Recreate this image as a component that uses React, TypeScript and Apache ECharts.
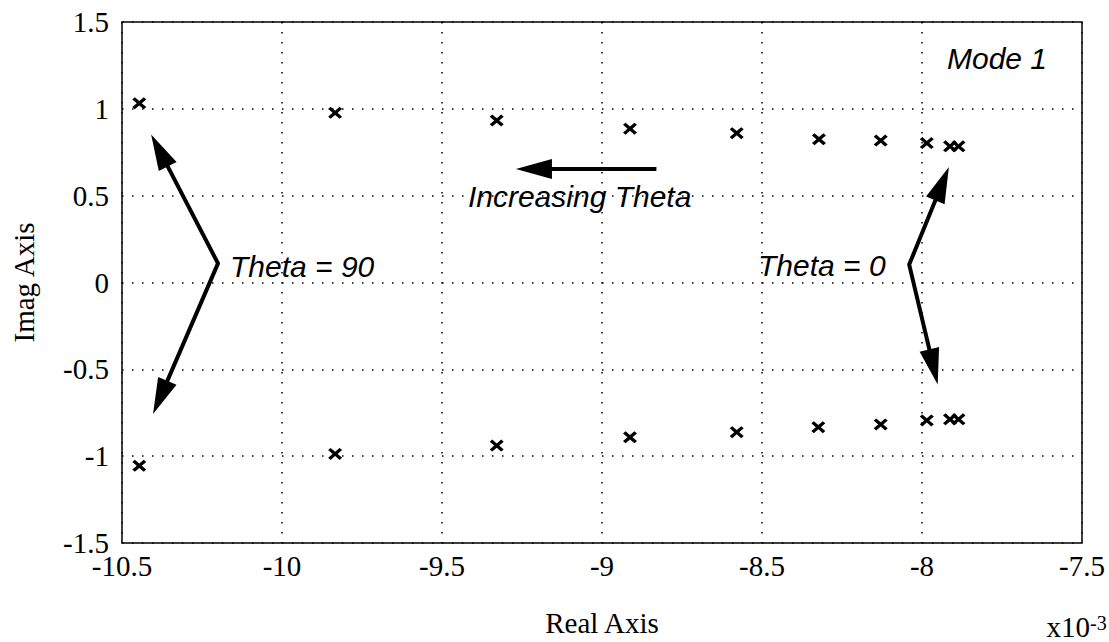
import React, { useEffect, useRef } from "react";
import * as echarts from "echarts";

// Root locus points (real part in units of 1e-3)
const realUpper = [-10.446, -9.834, -9.329, -8.9125, -8.579, -8.322, -8.129, -7.985, -7.9125, -7.886];
const imagUpper = [1.032, 0.977, 0.933, 0.886, 0.86, 0.825, 0.817, 0.803, 0.784, 0.784];
const realLower = [-10.446, -9.834, -9.329, -8.9125, -8.579, -8.324, -8.129, -7.985, -7.9125, -7.886];
const imagLower = [-1.055, -0.987, -0.939, -0.891, -0.862, -0.833, -0.817, -0.794, -0.788, -0.788];

const xRange = [-10.5, -7.5];
const yRange = [-1.5, 1.5];
const tickStep = 0.5;

// Annotation anchors, in data coordinates
const leftV = { up: [-10.409, 0.852], vertex: [-10.2, 0.11], down: [-10.403, -0.757] };
const rightV = { up: [-7.916, 0.665], vertex: [-8.04, 0.103], down: [-7.951, -0.587] };
const horizArrow = { tail: [-8.83, 0.654], tip: [-9.269, 0.654] };

const labels = [
  { text: "Mode 1", at: [-7.922, 1.289] },
  { text: "Increasing Theta", at: [-9.419, 0.495] },
  { text: "Theta = 90", at: [-10.1625, 0.093] },
  { text: "Theta = 0", at: [-8.5125, 0.1] },
];

export default function App() {
  const ref = useRef<HTMLDivElement>(null);
  useEffect(() => {
    const chart = echarts.init(ref.current!, null, { renderer: "svg" });
    const serif = "Liberation Serif";
    const sans = "Liberation Sans";
    const cross =
      "path://M0,1.8 L1.8,0 L5,3.2 L8.2,0 L10,1.8 L6.8,5 L10,8.2 L8.2,10 L5,6.8 L1.8,10 L0,8.2 L3.2,5 Z";
    const gridLine = { show: true, lineStyle: { type: [1.5, 8.5], color: "#000", width: 1.5 } };
    const labelStyle = {
      fontFamily: serif,
      fontSize: 29,
      color: "#000",
      fontWeight: "normal",
      fontStyle: "normal",
    };
    const tickLabel = (margin: number) => ({
      ...labelStyle,
      margin,
      hideOverlap: false,
    });
    chart.setOption({
      animation: false,
      backgroundColor: "#fff",
      textStyle: { fontFamily: serif, fontSize: 29, color: "#000" },
      grid: {
        left: 122,
        right: 27,
        top: 22,
        bottom: 91,
        show: true,
        borderColor: "#000",
        borderWidth: 1.5,
      },
      xAxis: {
        type: "value",
        min: xRange[0],
        max: xRange[1],
        interval: tickStep,
        name: "Real Axis",
        nameLocation: "middle",
        nameGap: 65,
        nameTextStyle: labelStyle,
        axisLine: { show: false },
        axisTick: { show: false },
        axisLabel: tickLabel(8),
        splitLine: gridLine,
      },
      yAxis: {
        type: "value",
        min: yRange[0],
        max: yRange[1],
        interval: tickStep,
        name: "Imag Axis",
        nameLocation: "middle",
        nameGap: 84,
        nameTextStyle: labelStyle,
        axisLine: { show: false },
        axisTick: { show: false },
        axisLabel: tickLabel(13),
        splitLine: gridLine,
      },
      series: [
        {
          type: "scatter",
          data: realUpper.map((x, i) => [x, imagUpper[i]]),
          symbol: cross,
          symbolSize: [14, 12],
          itemStyle: { color: "#000", opacity: 1 },
        },
        {
          type: "scatter",
          data: realLower.map((x, i) => [x, imagLower[i]]),
          symbol: cross,
          symbolSize: [14, 12],
          itemStyle: { color: "#000", opacity: 1 },
        },
      ],
    });

    const P = (p: number[]) => chart.convertToPixel({ gridIndex: 0 }, p) as number[];
    const headLen = 36;
    const headHalf = 10;
    const head = (tip: number[], from: number[]) => {
      const dx = tip[0] - from[0];
      const dy = tip[1] - from[1];
      const L = Math.hypot(dx, dy);
      const ux = dx / L;
      const uy = dy / L;
      const bx = tip[0] - ux * headLen;
      const by = tip[1] - uy * headLen;
      return {
        poly: [tip, [bx - uy * headHalf, by + ux * headHalf], [bx + uy * headHalf, by - ux * headHalf]],
        base: [tip[0] - ux * (headLen - 4), tip[1] - uy * (headLen - 4)],
      };
    };
    const graphics: any[] = [];
    const vArrow = (g: { up: number[]; vertex: number[]; down: number[] }) => {
      const up = P(g.up);
      const v = P(g.vertex);
      const dn = P(g.down);
      const h1 = head(up, v);
      const h2 = head(dn, v);
      graphics.push({
        type: "polyline",
        shape: { points: [h1.base, v, h2.base] },
        style: { stroke: "#000", lineWidth: 4, fill: null, lineJoin: "round" },
      });
      graphics.push({ type: "polygon", shape: { points: h1.poly }, style: { fill: "#000" } });
      graphics.push({ type: "polygon", shape: { points: h2.poly }, style: { fill: "#000" } });
    };
    vArrow(leftV);
    vArrow(rightV);
    {
      const tail = P(horizArrow.tail);
      const tip = P(horizArrow.tip);
      const h = head(tip, tail);
      graphics.push({
        type: "line",
        shape: { x1: tail[0], y1: tail[1], x2: h.base[0], y2: h.base[1] },
        style: { stroke: "#000", lineWidth: 4 },
      });
      graphics.push({ type: "polygon", shape: { points: h.poly }, style: { fill: "#000" } });
    }
    labels.forEach((l) => {
      const p = P(l.at);
      graphics.push({
        type: "text",
        x: p[0],
        y: p[1],
        style: {
          text: l.text,
          font: `italic 30px '${sans}', Arial, sans-serif`,
          fill: "#000",
          align: "left",
          verticalAlign: "middle",
        },
      });
    });
    graphics.push({
      type: "text",
      x: 1090,
      y: 641,
      style: {
        text: "x10",
        font: `29px '${serif}', serif`,
        fill: "#000",
        align: "right",
        verticalAlign: "bottom",
      },
    });
    graphics.push({
      type: "text",
      x: 1090,
      y: 633,
      style: {
        text: "-3",
        font: `20px '${serif}', serif`,
        fill: "#000",
        align: "left",
        verticalAlign: "bottom",
      },
    });
    chart.setOption({ graphic: graphics });

    return () => chart.dispose();
  }, []);
  return (
    <div
      ref={ref}
      style={{ position: "fixed", left: 0, top: 0, width: 1109, height: 642, background: "#fff" }}
    />
  );
}
